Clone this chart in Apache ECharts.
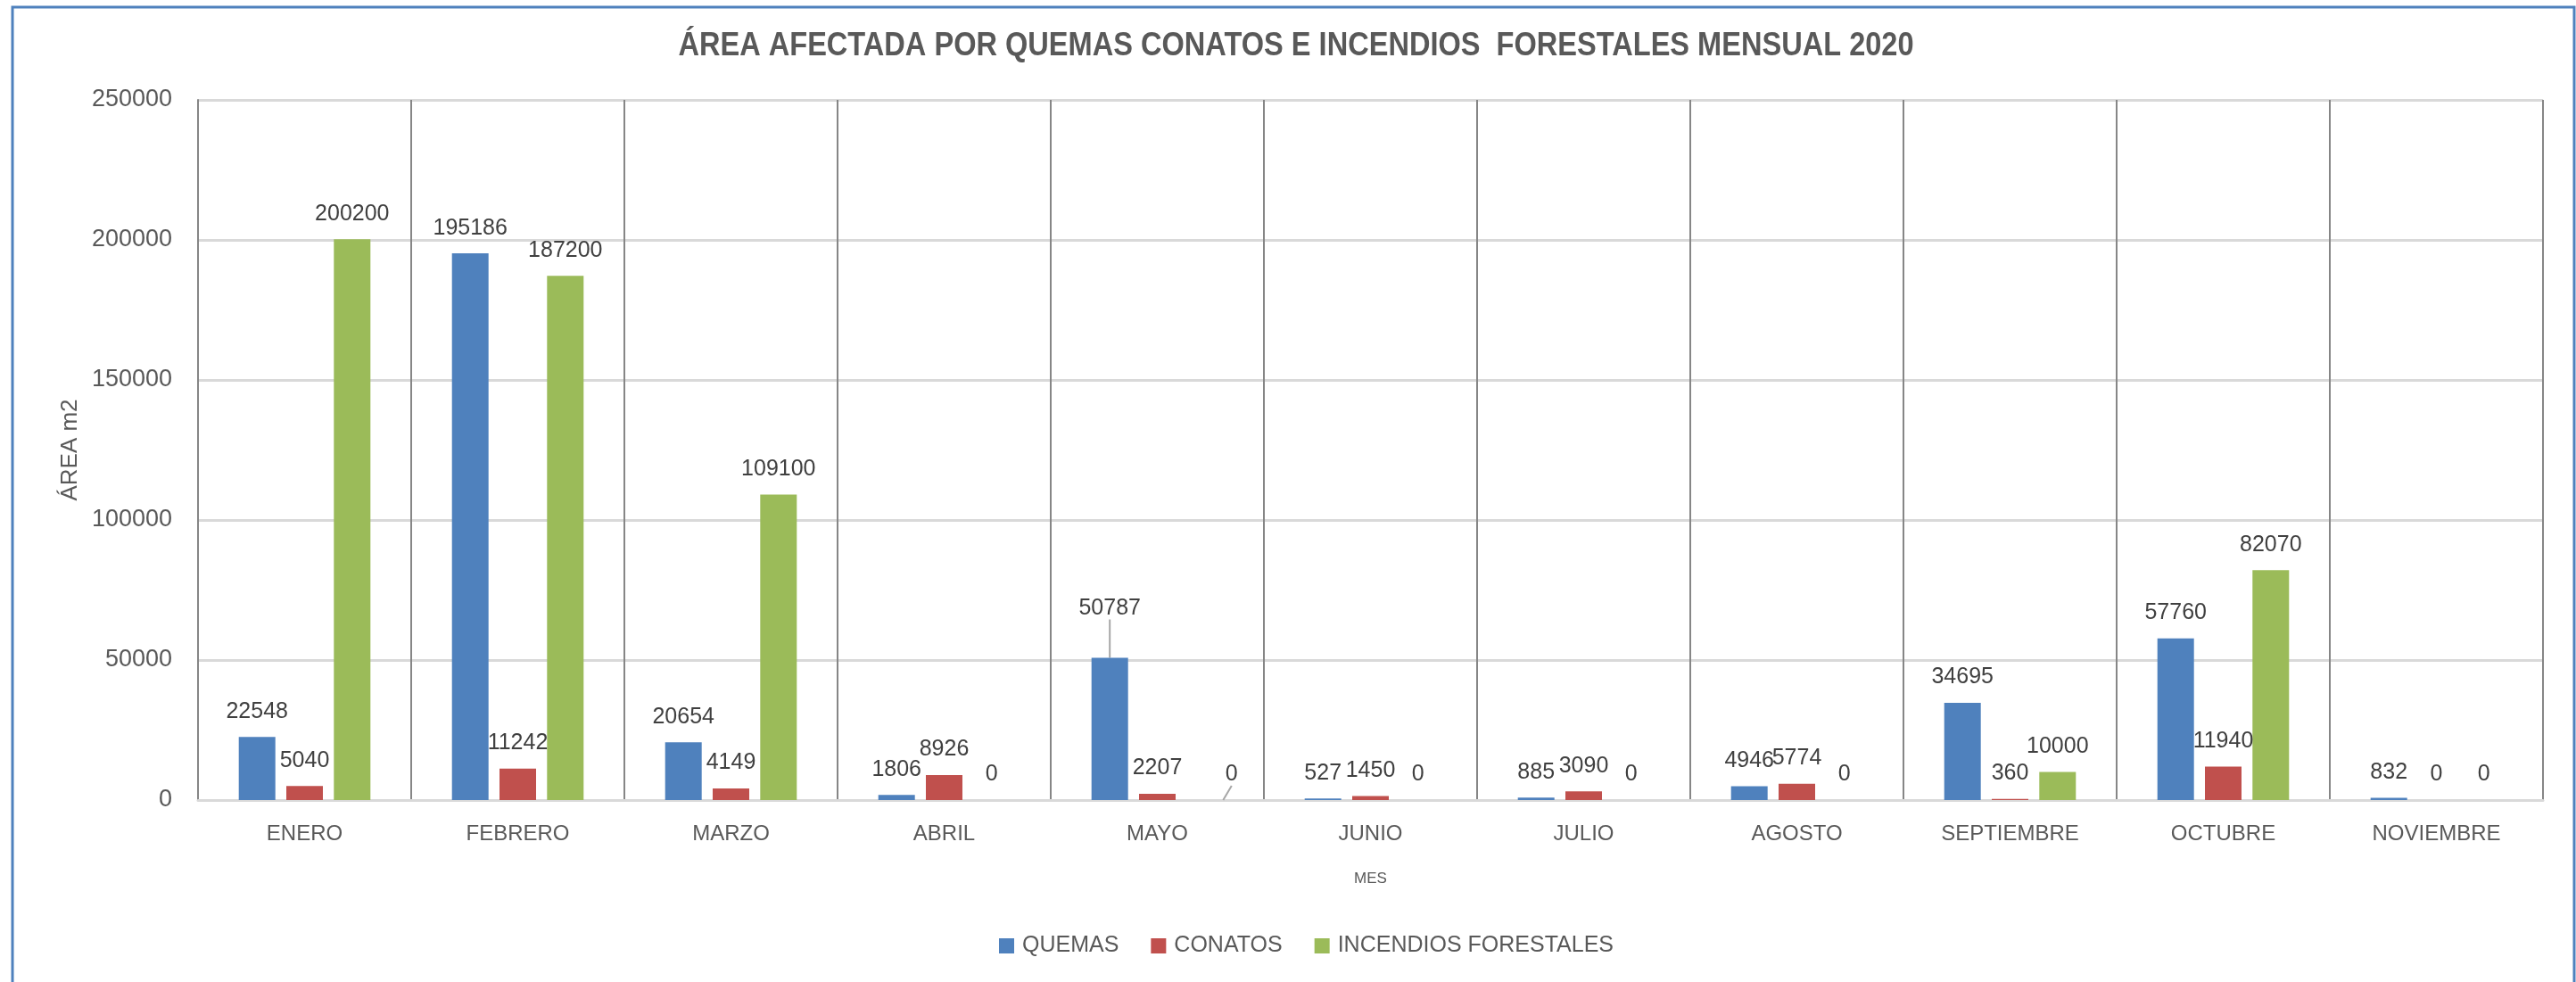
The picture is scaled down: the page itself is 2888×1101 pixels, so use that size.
<!DOCTYPE html>
<html>
<head>
<meta charset="utf-8">
<script src="https://cdn.jsdelivr.net/npm/echarts@6/dist/echarts.min.js"></script>
<style>
  html, body { margin: 0; padding: 0; background: #ffffff; }
  #chart { width: 2888px; height: 1101px; }
</style>
</head>
<body>
<div id="chart"></div>
<script>
// Monthly area (m2) affected by burns, small fires and forest fires, 2020
const months = ['ENERO', 'FEBRERO', 'MARZO', 'ABRIL', 'MAYO', 'JUNIO', 'JULIO', 'AGOSTO', 'SEPTIEMBRE', 'OCTUBRE', 'NOVIEMBRE'];
const quemas = [22548, 195186, 20654, 1806, 50787, 527, 885, 4946, 34695, 57760, 832];
const conatos = [5040, 11242, 4149, 8926, 2207, 1450, 3090, 5774, 360, 11940, 0];
const incendios = [200200, 187200, 109100, 0, 0, 0, 0, 0, 10000, 82070, 0];
const seriesNames = ['QUEMAS', 'CONATOS', 'INCENDIOS FORESTALES'];
const yMax = 250000;
const yStep = 50000;

const FONT = "'Liberation Sans', Arial, sans-serif";
const TEXT = '#595959';
const colors = ['#4f81bd', '#c0504d', '#9bbb59'];

const chart = echarts.init(document.getElementById('chart'), null, { renderer: 'canvas' });

// Bars with value labels on top; a few labels are nudged aside with a leader line
function barSeries(name, values, color, shifts) {
  return {
    name: name,
    type: 'bar',
    data: values.map(function (v, i) {
      return shifts[i]
        ? { value: v, labelLine: { show: true, lineStyle: { color: '#a6a6a6', width: 2 } } }
        : v;
    }),
    barWidth: 41,
    barGap: '30%',
    itemStyle: { color: color },
    label: {
      show: true,
      position: 'top',
      distance: 16,
      fontFamily: FONT,
      fontSize: 25,
      color: '#404040'
    },
    labelLine: { show: false },
    labelLayout: function (p) {
      const s = shifts[p.dataIndex];
      return s ? { dx: s[0], dy: s[1] } : {};
    }
  };
}

chart.setOption({
  animation: false,
  backgroundColor: '#ffffff',
  legend: {
    data: seriesNames,
    left: 1115,
    top: 1043,
    itemWidth: 17,
    itemHeight: 17,
    itemGap: 36,
    icon: 'rect',
    textStyle: { fontFamily: FONT, fontSize: 25, color: TEXT, padding: [0, 0, 0, 4] }
  },
  grid: { left: 222, right: 37, top: 112, bottom: 204, containLabel: false },
  xAxis: {
    type: 'category',
    data: months,
    name: 'MES',
    nameLocation: 'middle',
    nameGap: 80,
    nameTextStyle: { fontFamily: FONT, fontSize: 17, color: TEXT },
    axisLine: { show: true, lineStyle: { color: '#d9d9d9', width: 3 } },
    axisTick: { show: false },
    axisLabel: { margin: 26, fontFamily: FONT, fontSize: 24, color: TEXT },
    splitLine: { show: true, interval: 0, lineStyle: { color: '#868686', width: 2 } }
  },
  yAxis: {
    type: 'value',
    min: 0,
    max: yMax,
    interval: yStep,
    name: 'ÁREA m2',
    nameLocation: 'middle',
    nameGap: 128,
    nameRotate: 90,
    nameTextStyle: { fontFamily: FONT, fontSize: 26, color: TEXT },
    axisLine: { show: true, lineStyle: { color: '#868686', width: 2 } },
    axisTick: { show: false },
    axisLabel: {
      margin: 29, fontFamily: FONT, fontSize: 27, color: TEXT,
      formatter: function (v) { return String(v); }
    },
    splitLine: { show: true, lineStyle: { color: '#d9d9d9', width: 3 } }
  },
  series: [
    barSeries(seriesNames[0], quemas, colors[0], { 4: [0, -27] }),
    barSeries(seriesNames[1], conatos, colors[1], {}),
    barSeries(seriesNames[2], incendios, colors[2], { 4: [30, 0] })
  ],
  graphic: [
    {
      // chart title, condensed horizontally
      type: 'text',
      silent: true,
      x: 1453,
      y: 52,
      scaleX: 0.88,
      style: {
        text: 'ÁREA AFECTADA POR QUEMAS CONATOS E INCENDIOS  FORESTALES MENSUAL 2020',
        font: "bold 37px 'Liberation Sans', Arial, sans-serif",
        fill: TEXT,
        align: 'center',
        verticalAlign: 'middle'
      }
    },
    {
      type: 'rect',
      silent: true,
      z: 100,
      shape: { x: 14, y: 8, width: 2872, height: 1110 },
      style: { fill: null, stroke: '#4f81bd', lineWidth: 3 }
    }
  ]
});
</script>
</body>
</html>
